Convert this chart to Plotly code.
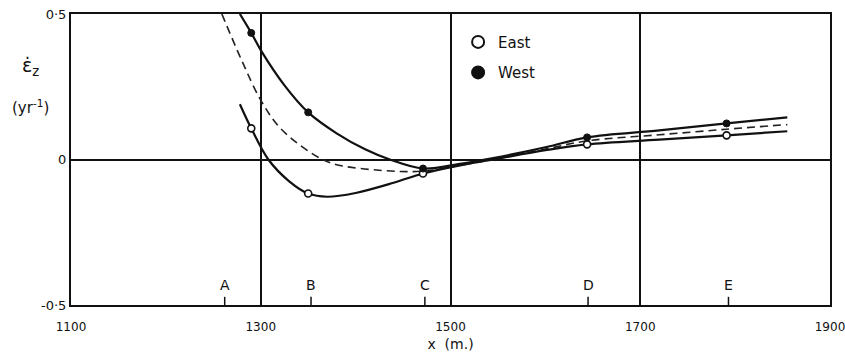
import plotly.graph_objects as go

# Measured points (x in m, strain rate in yr^-1)
pts_x = [1290, 1350, 1471, 1644, 1791]
east_pts = [0.107, -0.117, -0.048, 0.052, 0.083]
west_pts = [0.435, 0.162, -0.031, 0.076, 0.124]

# Smoothed curves
east_cx = [1278, 1290, 1308, 1330, 1350, 1370, 1400, 1440, 1471, 1510, 1545, 1600, 1644, 1720, 1791, 1855]
east_cy = [0.19, 0.107, 0.0, -0.075, -0.117, -0.128, -0.115, -0.08, -0.048, -0.02, 0.0, 0.032, 0.052, 0.068, 0.083, 0.097]
west_cx = [1278, 1290, 1300, 1325, 1350, 1380, 1410, 1436, 1471, 1510, 1545, 1600, 1644, 1720, 1791, 1855]
west_cy = [0.5, 0.435, 0.376, 0.255, 0.162, 0.09, 0.035, 0.0, -0.031, -0.015, 0.005, 0.042, 0.076, 0.1, 0.124, 0.145]
mean_cx = [1259, 1280, 1300, 1320, 1352, 1376, 1429, 1471, 1510, 1545, 1600, 1644, 1720, 1791, 1855]
mean_cy = [0.5, 0.34, 0.204, 0.11, 0.025, -0.014, -0.038, -0.04, -0.02, 0.0, 0.036, 0.064, 0.085, 0.104, 0.12]

# Site markers along the x axis
site_x = [1262, 1353, 1473, 1645, 1793]
site_labels = ["A", "B", "C", "D", "E"]

x_ticks = [1100, 1300, 1500, 1700, 1900]
y_ticks = [-0.5, 0, 0.5]
y_tick_text = ["-0·5", "0", "0·5"]

FONT = "DejaVu Sans"
fig = go.Figure()

fig.add_trace(go.Scatter(x=mean_cx, y=mean_cy, mode="lines", line=dict(color="#222", width=1.6, dash="8px,5px", shape="spline", smoothing=1.0), showlegend=False, hoverinfo="skip"))
fig.add_trace(go.Scatter(x=east_cx, y=east_cy, mode="lines", line=dict(color="#111", width=2.2, shape="spline", smoothing=1.0), showlegend=False, hoverinfo="skip"))
fig.add_trace(go.Scatter(x=west_cx, y=west_cy, mode="lines", line=dict(color="#111", width=2.2, shape="spline", smoothing=1.0), showlegend=False, hoverinfo="skip"))

fig.add_trace(go.Scatter(x=pts_x, y=east_pts, mode="markers", name="East", legendgroup="e",
                         marker=dict(symbol="circle", size=7, color="white", line=dict(color="#111", width=1.6))))
fig.add_trace(go.Scatter(x=pts_x, y=west_pts, mode="markers", name="West", legendgroup="w",
                         marker=dict(symbol="circle", size=7, color="#111", line=dict(color="#111", width=1))))

# Site ticks and letters
for sx, sl in zip(site_x, site_labels):
    fig.add_shape(type="line", x0=sx, x1=sx, y0=-0.5, y1=-0.472, line=dict(color="#111", width=1.5))
    fig.add_annotation(x=sx, y=-0.472, text=sl, showarrow=False, yanchor="bottom", yshift=2,
                       font=dict(family=FONT, size=14, color="#111"))

# Y axis label
fig.add_annotation(xref="paper", yref="paper", x=-0.054, y=0.82, text="ε̇<sub>z</sub>", showarrow=False,
                   xanchor="center", yanchor="middle",
                   font=dict(family=FONT, size=19, color="#111"))
fig.add_annotation(xref="paper", yref="paper", x=-0.053, y=0.682, text="(yr<sup>-1</sup>)", showarrow=False,
                   xanchor="center", yanchor="middle",
                   font=dict(family=FONT, size=15, color="#111"))

fig.update_layout(
    width=845, height=353,
    margin=dict(l=71, r=15, t=14, b=48, autoexpand=False),
    paper_bgcolor="white", plot_bgcolor="white",
    font=dict(family=FONT, size=12, color="#111"),
    legend=dict(x=0.51, y=0.96, xanchor="left", yanchor="top", bgcolor="rgba(0,0,0,0)",
                font=dict(family=FONT, size=15), itemsizing="constant", tracegroupgap=8),
    xaxis=dict(range=[1100, 1900], tickvals=x_ticks, showgrid=True, gridcolor="#111", gridwidth=1.5,
               showline=True, linecolor="#111", linewidth=2, mirror=True, ticks="", zeroline=False,
               automargin=False, ticklabelstandoff=10, ticklabeloverflow="allow",
               title=dict(text="x  (m.)", font=dict(family=FONT, size=14), standoff=6),
               tickfont=dict(size=12)),
    yaxis=dict(range=[-0.5, 0.5], tickvals=y_ticks, ticktext=y_tick_text, showgrid=False,
               zeroline=True, zerolinecolor="#111", zerolinewidth=1.5, automargin=False,
               ticklabeloverflow="allow",
               showline=True, linecolor="#111", linewidth=2, mirror=True, ticks="",
               tickfont=dict(size=13)),
)

fig.write_html("out.html", config={"displayModeBar": False},
               post_script="document.body.style.margin='0';document.body.style.overflow='hidden';")
